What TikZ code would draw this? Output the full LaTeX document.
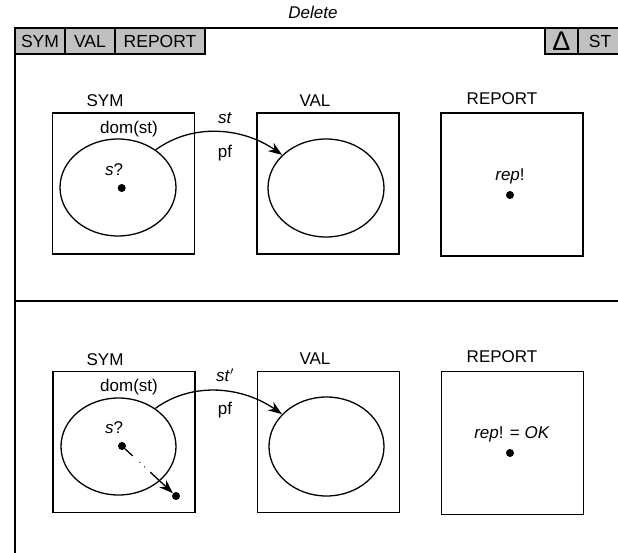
\documentclass[tikz,border=0pt]{standalone}
\usepackage{fontspec}
\setmainfont{Liberation Sans}
\usetikzlibrary{shapes.geometric,arrows.meta}
\definecolor{tabgray}{RGB}{192,192,192}
\begin{document}
\begin{tikzpicture}[x=1pt,y=-1pt,
 box/.style={draw, line width=1.4pt, minimum width=142pt, minimum height=141pt, inner sep=0pt},
 ell/.style={draw, ellipse, line width=1.3pt, minimum width=116pt, minimum height=97pt, inner sep=0pt},
 lbl/.style={font=\fontsize{17}{20}\selectfont, inner sep=0pt},
 tab/.style={draw, fill=tabgray, line width=1.3pt, minimum height=26pt, inner sep=0pt, font=\fontsize{17.5}{20}\selectfont},
 dotn/.style={circle, fill=black, inner sep=0pt, minimum size=8pt},
 mapar/.style={-{Stealth[length=14pt,width=10pt]}, line width=1.3pt}]
\useasboundingbox (0,0) rectangle (618,553);
% frame
\coordinate (tl) at (15,28);
\coordinate (tr) at (622,28);
\coordinate (bl) at (15,556);
\coordinate (dl) at (15,301);
\coordinate (dr) at (622,301);
\draw[line width=1.3pt] (tr) -- (tl) -- (bl);
\draw[line width=1.5pt] (dl) -- (dr);
\node[lbl, font=\fontsize{17}{20}\selectfont\itshape] (title) at (313,12) {Delete};
% tabs
\node[tab, minimum width=50pt] (tsym) at (40,41) {SYM};
\node[tab, minimum width=50pt] (tval) at (90,41) {VAL};
\node[tab, minimum width=90pt] (trep) at (160,41) {REPORT};
\node[tab, minimum width=33pt, font=\fontsize{27}{28}\selectfont] (tdelta) at (561.5,41) {Δ};
\node[tab, minimum width=44pt] (tst) at (600,41) {ST};
% top section
\node[box] (sym1) at (123.5,183.5) {};
\node[box] (val1) at (328,183.5) {};
\node[box, minimum height=143pt] (rep1) at (512,184.5) {};
\node[lbl] (sym1l) at (105,101) {SYM};
\node[lbl] (val1l) at (315,101) {VAL};
\node[lbl] (rep1l) at (502,99) {REPORT};
\node[ell] (symE1) at (118,187.5) {};
\node[ell, minimum height=98pt] (valE1) at (326,188) {};
\node[lbl] (dom1) at (129,129) {dom(st)};
\node[lbl] (s1) at (114,170) {\textit{s}?};
\node[dotn] (sd1) at (121.7,188) {};
\node[lbl] (st1) at (225,118) {\textit{st}};
\node[lbl] (pf1) at (225,153) {pf};
\node[lbl] (r1) at (510,176) {\textit{rep}!};
\node[dotn] (rd1) at (510,195) {};
\draw[mapar] (symE1.45) to[out=36,in=145,looseness=0.95] (valE1.143);
% bottom section
\node[box] (sym2) at (124,442) {};
\node[box] (val2) at (328.5,442) {};
\node[box, minimum height=143pt] (rep2) at (512.5,443) {};
\node[lbl] (sym2l) at (105,360) {SYM};
\node[lbl] (val2l) at (315,359) {VAL};
\node[lbl] (rep2l) at (502,357) {REPORT};
\node[ell, minimum width=115pt] (symE2) at (118.5,446.5) {};
\node[ell, minimum width=115pt, minimum height=99pt] (valE2) at (326.5,446.5) {};
\node[lbl] (dom2) at (129,387) {dom(st)};
\node[lbl] (s2) at (114,428) {\textit{s}?};
\node[dotn] (sd2) at (122,446) {};
\node[dotn] (ed2) at (176,496) {};
\node[lbl] (st2) at (225,375) {\textit{st}$'$};
\node[lbl] (pf2) at (225,410) {pf};
\node[lbl] (r2) at (512,434) {\textit{rep}! = \textit{OK}};
\node[dotn] (rd2) at (510,453) {};
\draw[mapar] (symE2.46) to[out=36,in=145,looseness=0.95] (valE2.144);
\draw[mapar, line cap=round, dash pattern=on 10pt off 10pt on 0.1pt off 6.5pt on 0.1pt off 8pt on 40pt off 1pt] (sd2) -- (ed2);
\end{tikzpicture}
\end{document}
